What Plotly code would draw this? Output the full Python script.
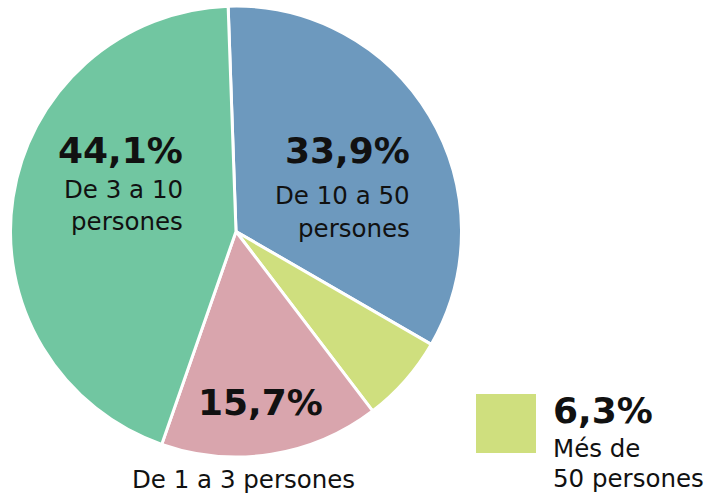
import plotly.graph_objects as go

labels = ["De 10 a 50 persones", "Més de 50 persones", "De 1 a 3 persones", "De 3 a 10 persones"]
values = [33.9, 6.3, 15.7, 44.1]
colors = ["#6d99be", "#cfdf7e", "#d9a5ad", "#71c6a1"]

W, H = 716, 494
FONT = "DejaVu Sans"

def pct(v):
    return f"{v:.1f}".replace(".", ",") + "%"

fig = go.Figure(go.Pie(
    labels=labels, values=values, sort=False, direction="clockwise",
    rotation=-2, textinfo="none", hoverinfo="label+percent",
    marker=dict(colors=colors, line=dict(color="white", width=3)),
    domain=dict(x=[10.5 / W, 461.5 / W], y=[1 - 457 / H, 1 - 6 / H]),
    showlegend=False,
))

def ann(text, x, y, anchor, size, bold=False):
    fig.add_annotation(
        text=f"<b>{text}</b>" if bold else text,
        x=x / W, y=1 - y / H, xref="paper", yref="paper",
        xanchor=anchor, yanchor="middle", showarrow=False,
        font=dict(family=FONT, size=size, color="#111111"),
    )

BIG, SMALL = 36, 24.5
# De 3 a 10
ann(pct(values[3]), 185, 150, "right", BIG, True)
ann("De 3 a 10", 185, 190, "right", SMALL)
ann("persones", 185, 221, "right", SMALL)
# De 10 a 50
ann(pct(values[0]), 412, 150, "right", BIG, True)
ann("De 10 a 50", 412, 196, "right", SMALL)
ann("persones", 412, 228, "right", SMALL)
# De 1 a 3
ann(pct(values[2]), 260, 402, "center", BIG, True)
ann(labels[2], 243, 479, "center", SMALL)
# Més de 50 (legend-style)
fig.add_shape(type="rect", xref="paper", yref="paper",
              x0=476 / W, x1=536 / W, y0=1 - 453 / H, y1=1 - 394 / H,
              fillcolor=colors[1], line=dict(width=0))
ann(pct(values[1]), 551, 410, "left", BIG, True)
ann("Més de", 551, 448, "left", SMALL)
ann("50 persones", 551, 478, "left", SMALL)

fig.update_layout(width=W, height=H, margin=dict(l=0, r=0, t=0, b=0),
                  paper_bgcolor="white", plot_bgcolor="white")
fig.write_html("out.html", config={"displayModeBar": False},
               post_script="document.body.style.margin='0';")
